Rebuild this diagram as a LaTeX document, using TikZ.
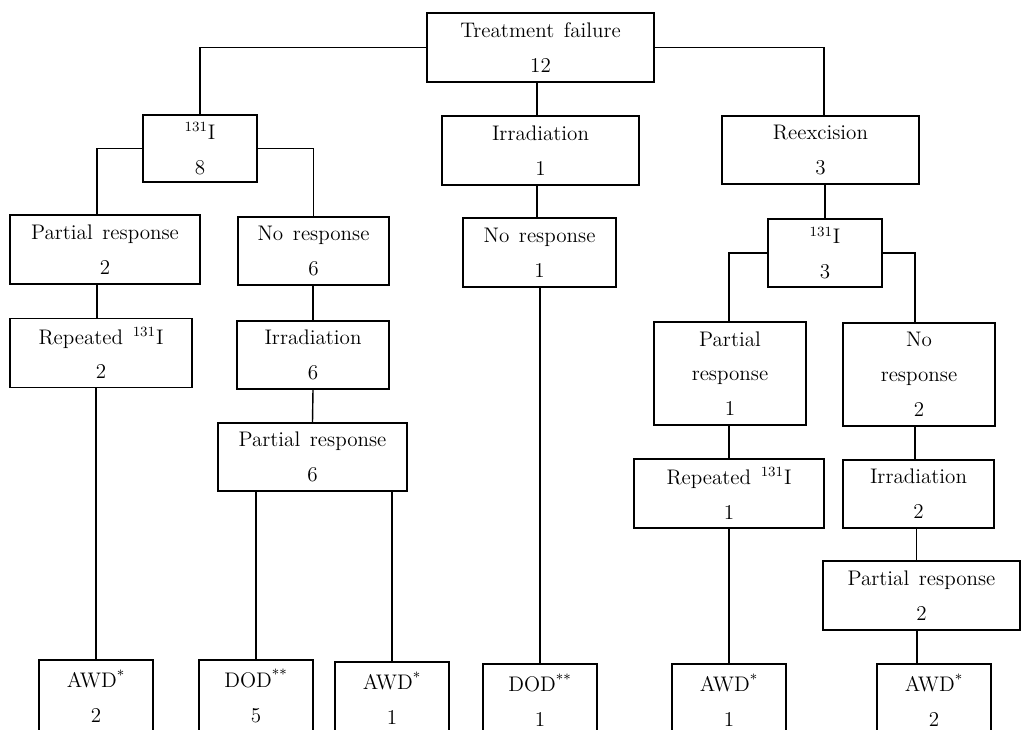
\documentclass[tikz,border=0pt]{standalone}
\usepackage{tikz}

\tikzset{
  box/.style={draw, line width=0.8pt, inner sep=0pt, align=center,
    font={\fontsize{12}{19.8}\selectfont\spaceskip=5.5pt plus 1pt}},
  leaf/.style={box, minimum width=2.28cm, minimum height=1.44cm},
}

\begin{document}
\begin{tikzpicture}[x=0.02cm,y=-0.02cm,line width=0.8pt]
   \useasboundingbox (0,0) rectangle (1021,730) ;
   % first level
   \node[box,minimum width=4.54cm,minimum height=1.38cm] (tf) at (540.5,47.5) {Treatment failure\\12} ;
   \node[box,minimum width=2.28cm,minimum height=1.34cm] (iA) at (200,148.5) {\textsuperscript{131}I\\8} ;
   \node[box,minimum width=3.94cm,minimum height=1.38cm] (irrA) at (540.5,150.5) {Irradiation\\1} ;
   \node[box,minimum width=3.94cm,minimum height=1.36cm] (reex) at (820.5,150) {Reexcision\\3} ;
   % second level
   \node[box,minimum width=3.80cm,minimum height=1.38cm] (prA) at (105,249.5) {Partial response\\2} ;
   \node[box,minimum width=3.02cm,minimum height=1.36cm] (nrA) at (313.5,251) {No response\\6} ;
   \node[box,minimum width=3.06cm,minimum height=1.38cm] (nrB) at (539.5,252.5) {No response\\1} ;
   \node[box,minimum width=2.28cm,minimum height=1.36cm] (iB) at (825,253) {\textsuperscript{131}I\\3} ;
   % third level
   \node[box,minimum width=3.64cm,minimum height=1.38cm] (repA) at (101,353) {Repeated \textsuperscript{131}I\\2} ;
   \node[box,minimum width=3.04cm,minimum height=1.36cm] (irrB) at (313,355) {Irradiation\\6} ;
   \node[box,minimum width=3.04cm,minimum height=2.06cm] (prC) at (730,373.5) {Partial\\response\\1} ;
   \node[box,minimum width=3.04cm,minimum height=2.06cm] (nrC) at (919,374.5) {No\\response\\2} ;
   % fourth level
   \node[box,minimum width=3.78cm,minimum height=1.36cm] (prB) at (312.5,457) {Partial response\\6} ;
   \node[box,minimum width=3.80cm,minimum height=1.38cm] (repB) at (729,493.5) {Repeated \textsuperscript{131}I\\1} ;
   \node[box,minimum width=3.02cm,minimum height=1.36cm] (irrC) at (918.5,494) {Irradiation\\2} ;
   \node[box,minimum width=3.94cm,minimum height=1.38cm] (prD) at (921.5,595.5) {Partial response\\2} ;
   % outcomes
   \node[leaf] (awdA) at (96,696) {AWD\textsuperscript{*}\\2} ;
   \node[leaf] (dodA) at (256,696) {DOD\textsuperscript{**}\\5} ;
   \node[leaf] (awdB) at (392,698) {AWD\textsuperscript{*}\\1} ;
   \node[leaf] (dodB) at (540,700) {DOD\textsuperscript{**}\\1} ;
   \node[leaf] (awdC) at (729,700) {AWD\textsuperscript{*}\\1} ;
   \node[leaf] (awdD) at (934,700) {AWD\textsuperscript{*}\\2} ;
   % connectors
   \draw (tf.west) -| (iA.north) ;
   \draw (tf.east) -| ([xshift=0.07cm]reex.north) ;
   \draw ([xshift=-0.07cm]irrA.north |- tf.south) -- ([xshift=-0.07cm]irrA.north) ;
   \draw (iA.west) -| ([xshift=-0.16cm]prA.north) ;
   \draw (iA.east) -| (nrA.north) ;
   \draw ([xshift=-0.16cm]prA.south) -- ([xshift=-0.16cm]prA.south |- repA.north) ;
   \draw (repA.south -| awdA.north) -- (awdA.north) ;
   \draw (nrA.south -| irrB.north) -- (irrB.north) ;
   \draw (irrB.south) -- (prB.north) ;
   \draw (prB.south -| dodA.north) -- (dodA.north) ;
   \draw (prB.south -| awdB.north) -- (awdB.north) ;
   \draw ([xshift=-0.07cm]irrA.south) -- ([xshift=-0.07cm]irrA.south |- nrB.north) ;
   \draw (nrB.south -| dodB.north) -- (dodB.north) ;
   \draw (reex.south -| iB.north) -- (iB.north) ;
   \draw (iB.west) -| ([xshift=-0.02cm]prC.north) ;
   \draw (iB.east) -| ([xshift=-0.08cm]nrC.north) ;
   \draw ([xshift=-0.02cm]prC.south) -- ([xshift=-0.02cm]prC.south |- repB.north) ;
   \draw (repB.south -| awdC.north) -- (awdC.north) ;
   \draw ([xshift=-0.08cm]nrC.south) -- ([xshift=-0.08cm]nrC.south |- irrC.north) ;
   \draw ([xshift=-0.04cm]irrC.south) -- ([xshift=-0.04cm]irrC.south |- prD.north) ;
   \draw ([xshift=-0.34cm]awdD.north |- prD.south) -- ([xshift=-0.34cm]awdD.north) ;
\end{tikzpicture}
\end{document}
